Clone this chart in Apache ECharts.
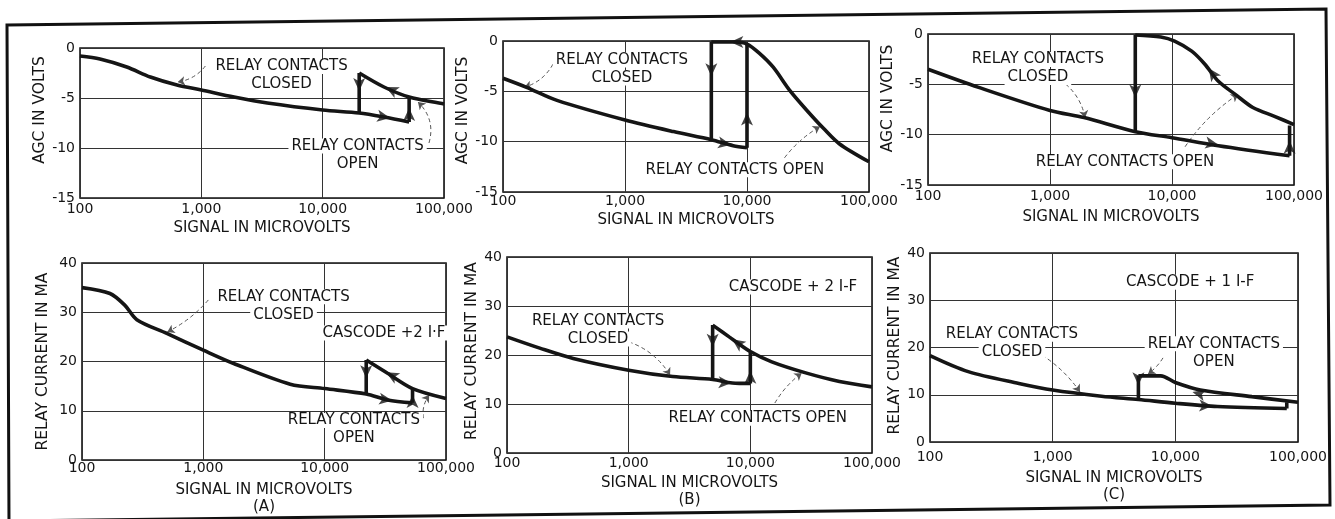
<!DOCTYPE html>
<html><head><meta charset="utf-8">
<script src="https://cdn.jsdelivr.net/npm/echarts@6/dist/echarts.min.js"></script>
<style>html,body{margin:0;padding:0;background:#fff}#c{width:1335px;height:519px}</style>
</head><body><div id="c"></div>
<script>
// ---------- tick labels ----------
const xTickValues = [100, 1000, 10000, 100000];
const xTickLabels = ['100', '1,000', '10,000', '100,000'];
const agcRange = [-15, 0];
const maRange = [0, 40];

// ---------- (A) AGC ----------
const aTopClosed = [[100,-0.8],[146,-1.1],[243,-1.9],[380,-2.9],[630,-3.7],[1000,-4.2],[1860,-4.9],[3500,-5.5],[10000,-6.2],[20000,-6.5],[32000,-6.9],[51600,-7.4]];
const aTopOpen = [[20000,-2.5],[32000,-3.9],[51600,-4.9],[100000,-5.6]];
const aTopJumpUp = [[51600,-7.4],[51600,-4.9]];
const aTopJumpDown = [[20000,-2.5],[20000,-6.5]];
const aTopArrows = [[20000,-4.3,270],[36000,-7.0,-10],[51600,-6.0,90],[33000,-3.9,154]];
const aTopNotes = [{text:['RELAY CONTACTS','CLOSED'], at:[4580,-2.75]},{text:['RELAY CONTACTS','OPEN'], at:[19400,-10.7]}];
const aTopLeaders = [[[1080,-1.8],[640,-3.4],0.2],[[75200,-9.5],[61000,-5.4],-0.3]];

// ---------- (B) AGC ----------
const bTopClosed = [[100,-3.7],[156,-4.6],[277,-5.9],[1000,-7.85],[2500,-9.0],[5100,-9.8],[7700,-10.4],[10000,-10.6]];
const bTopOpen = [[5100,-0.1],[8000,-0.1],[10000,-0.3],[12600,-1.2],[16400,-2.6],[22400,-4.9],[31000,-6.9],[42500,-8.7],[57000,-10.2],[100000,-12.0]];
const bTopJumpUp = [[10000,-10.6],[10000,-0.3]];
const bTopJumpDown = [[5100,-0.1],[5100,-9.8]];
const bTopArrows = [[5100,-3.5,270],[7400,-10.3,-10],[10000,-7.1,90],[7300,-0.1,180]];
const bTopNotes = [{text:['RELAY CONTACTS','CLOSED'], at:[944,-2.78]},{text:['RELAY CONTACTS OPEN'], at:[7960,-12.8]}];
const bTopLeaders = [[[257,-2.3],[150,-4.6],0.2],[[20300,-11.6],[39700,-8.5],0.1]];

// ---------- (C) AGC ----------
const cTopClosed = [[100,-3.5],[260,-5.3],[1000,-7.6],[1900,-8.3],[5000,-9.7],[10000,-10.3],[24000,-11.1],[92000,-12.1]];
const cTopOpen = [[5000,-0.1],[8100,-0.3],[10500,-0.7],[14500,-1.7],[18600,-3.0],[24000,-4.7],[33000,-6.0],[46000,-7.3],[70000,-8.2],[100000,-9.0]];
const cTopJumpUp = [[92000,-12.1],[92000,-9.1]];
const cTopJumpDown = [[5000,-0.1],[5000,-9.7]];
const cTopArrows = [[5000,-6.3,270],[24000,-11.0,-10],[92000,-10.6,90],[20000,-3.4,125]];
const cTopNotes = [{text:['RELAY CONTACTS','CLOSED'], at:[796,-3.42]},{text:['RELAY CONTACTS OPEN'], at:[4120,-12.7]}];
const cTopLeaders = [[[1210,-4.55],[1940,-8.3],0.2],[[12800,-11.2],[34800,-6.0],0.1]];

// ---------- (A) relay current ----------
const aBotClosed = [[100,35],[170,33.8],[226,31.4],[283,28.5],[500,25.7],[1000,22.3],[1780,19.6],[5200,15.4],[10000,14.5],[22000,13.4],[33000,12.2],[53000,11.6]];
const aBotOpen = [[22000,20.3],[33000,17.6],[53000,14.5],[100000,12.5]];
const aBotJumpUp = [[53000,11.6],[53000,14.5]];
const aBotJumpDown = [[22000,20.3],[22000,13.4]];
const aBotArrows = [[22000,16.6,270],[36000,12.1,-8],[53000,13.2,90],[32000,17.8,152]];
const aBotNotes = [{text:['RELAY CONTACTS','CLOSED'], at:[4580,31.3]},{text:['CASCODE +2 I·F'], at:[30800,25.8]},{text:['RELAY CONTACTS','OPEN'], at:[17400,6.2]}];
const aBotLeaders = [[[1100,32.5],[505,26.0],0.1],[[65000,8.5],[72700,13.2],0.2]];

// ---------- (B) relay current ----------
const bBotClosed = [[100,23.7],[186,21.4],[350,19.3],[1000,16.9],[2300,15.6],[4900,15.0],[7100,14.3],[10000,14.2]];
const bBotOpen = [[4900,26.1],[6700,23.7],[10000,20.7],[15000,18.6],[29000,16.3],[54000,14.6],[100000,13.5]];
const bBotJumpUp = [[10000,14.2],[10000,20.7]];
const bBotJumpDown = [[4900,26.1],[4900,15.0]];
const bBotArrows = [[4900,21.7,270],[7000,14.3,-3],[10000,16.8,90],[7100,23.2,145]];
const bBotNotes = [{text:['CASCODE + 2 I-F'], at:[22400,33.9]},{text:['RELAY CONTACTS','CLOSED'], at:[560,25.1]},{text:['RELAY CONTACTS OPEN'], at:[11500,7.1]}];
const bBotLeaders = [[[881,23.1],[2190,15.9],0.2],[[15900,10.2],[26400,16.3],0.1]];

// ---------- (C) relay current ----------
const cBotClosed = [[100,18.3],[205,14.9],[530,12.4],[1000,11.0],[2500,9.7],[5000,9.0],[10000,8.2],[22000,7.5],[81000,7.1]];
const cBotOpen = [[5000,14.0],[7600,14.0],[10000,12.6],[16000,11.0],[42000,9.6],[100000,8.4]];
const cBotJumpUp = [[81000,7.1],[81000,8.4]];
const cBotJumpDown = [[5000,14.0],[5000,9.0]];
const cBotArrows = [[5000,12.0,270],[20000,7.6,-3],[13800,10.6,165]];
const cBotNotes = [{text:['CASCODE + 1 I-F'], at:[13200,33.8]},{text:['RELAY CONTACTS','CLOSED'], at:[466,20.9]},{text:['RELAY CONTACTS','OPEN'], at:[20600,18.9]}];
const cBotLeaders = [[[818,18.4],[1670,10.6],0.1],[[7930,17.8],[5990,14.4],0.1]];

// ---------- layout (pixels) ----------
const FONT = 'DejaVu Sans';
const INK = '#151515';
const panels = [
  {grid:{left:80,top:48,width:364,height:150}, y:agcRange, yName:'AGC IN VOLTS', xName:'SIGNAL IN MICROVOLTS', xGap:22, yGap:32, yPad:26, xMargin:4,
   closed:aTopClosed, open:aTopOpen, up:aTopJumpUp, down:aTopJumpDown, arrows:aTopArrows, notes:aTopNotes, leaders:aTopLeaders},
  {grid:{left:503,top:41,width:366,height:151}, y:agcRange, yName:'AGC IN VOLTS', xName:'SIGNAL IN MICROVOLTS', xGap:20, yGap:27, yPad:12, xMargin:2,
   closed:bTopClosed, open:bTopOpen, up:bTopJumpUp, down:bTopJumpDown, arrows:bTopArrows, notes:bTopNotes, leaders:bTopLeaders},
  {grid:{left:928,top:34,width:366,height:151}, y:agcRange, yName:'AGC IN VOLTS', xName:'SIGNAL IN MICROVOLTS', xGap:24, yGap:27, yPad:22, xMargin:4,
   closed:cTopClosed, open:cTopOpen, up:cTopJumpUp, down:cTopJumpDown, arrows:cTopArrows, notes:cTopNotes, leaders:cTopLeaders},
  {grid:{left:82,top:263,width:364,height:197}, y:maRange, yName:'RELAY CURRENT IN MA', xName:'SIGNAL IN MICROVOLTS\n(A)', xGap:22, yGap:31, yPad:0, xMargin:1,
   closed:aBotClosed, open:aBotOpen, up:aBotJumpUp, down:aBotJumpDown, arrows:aBotArrows, notes:aBotNotes, leaders:aBotLeaders},
  {grid:{left:507,top:257,width:365,height:196}, y:maRange, yName:'RELAY CURRENT IN MA', xName:'SIGNAL IN MICROVOLTS\n(B)', xGap:22, yGap:26, yPad:8, xMargin:3,
   closed:bBotClosed, open:bBotOpen, up:bBotJumpUp, down:bBotJumpDown, arrows:bBotArrows, notes:bBotNotes, leaders:bBotLeaders},
  {grid:{left:930,top:253,width:368,height:189}, y:maRange, yName:'RELAY CURRENT IN MA', xName:'SIGNAL IN MICROVOLTS\n(C)', xGap:28, yGap:27, yPad:4, xMargin:8,
   closed:cBotClosed, open:cBotOpen, up:cBotJumpUp, down:cBotJumpDown, arrows:cBotArrows, notes:cBotNotes, leaders:cBotLeaders}
];

const grids = [], xAxes = [], yAxes = [], series = [];
panels.forEach((p, i) => {
  grids.push(Object.assign({show:true, borderColor:INK, borderWidth:1.6, backgroundColor:'#fff'}, p.grid));
  xAxes.push({
    type:'log', logBase:10, gridIndex:i, min:xTickValues[0], max:xTickValues[xTickValues.length-1],
    name:p.xName, nameLocation:'middle', nameGap:p.xGap,
    nameTextStyle:{fontFamily:FONT, fontSize:15, color:INK, lineHeight:17},
    axisLine:{show:false}, axisTick:{show:false}, minorTick:{show:false},
    axisLabel:{fontFamily:FONT, fontSize:14, color:INK, margin:p.xMargin,
      formatter:v => { const k = xTickValues.indexOf(Math.round(v)); return k >= 0 ? xTickLabels[k] : ''; }},
    splitLine:{show:true, lineStyle:{color:'#333', width:1}}
  });
  yAxes.push({
    type:'value', gridIndex:i, min:p.y[0], max:p.y[1], interval:p.y === agcRange ? 5 : 10,
    name:p.yName, nameLocation:'middle', nameGap:p.yGap,
    nameTextStyle:{fontFamily:FONT, fontSize:15.5, color:INK, padding:[0,0,0,p.yPad]},
    axisLine:{show:false}, axisTick:{show:false},
    axisLabel:{fontFamily:FONT, fontSize:14, color:INK, margin:5},
    splitLine:{show:true, lineStyle:{color:'#333', width:1}}
  });
  const base = {type:'line', xAxisIndex:i, yAxisIndex:i, showSymbol:false, symbol:'none', silent:true,
    lineStyle:{color:INK, width:3.6}, z:3};
  series.push(Object.assign({}, base, {data:p.closed, smooth:0.3,
    markPoint:{
      symbol:'circle', symbolSize:1, itemStyle:{color:'rgba(0,0,0,0)'}, silent:true,
      label:{show:true, position:'inside', align:'center', verticalAlign:'middle', lineHeight:18,
        formatter:pp => pp.data.lines.map(t => '{t|' + t + '}').join('\n'),
        rich:{t:{fontFamily:FONT, fontSize:15, color:INK, backgroundColor:'#fff', padding:[0,3], lineHeight:18}}},
      data:p.notes.map(n => ({coord:n.at, lines:n.text}))
    }}));
  series.push(Object.assign({}, base, {data:p.open, smooth:0.3}));
  series.push(Object.assign({}, base, {data:p.up}));
  series.push(Object.assign({}, base, {data:p.down}));
  series.push({type:'scatter', xAxisIndex:i, yAxisIndex:i, silent:true, z:4,
    symbol:'arrow', symbolSize:[9,13], symbolRotate:v => v[2] - 90,
    itemStyle:{color:INK}, data:p.arrows});
  series.push({type:'lines', coordinateSystem:'cartesian2d', xAxisIndex:i, yAxisIndex:i, silent:true, z:2,
    symbol:['none','arrow'], symbolSize:7,
    lineStyle:{color:'#555', width:1, type:[4,3], opacity:1},
    data:p.leaders.map(l => ({coords:[l[0], l[1]], lineStyle:{curveness:l[2]}}))});
});

const chart = echarts.init(document.getElementById('c'), null, {renderer:'canvas'});
chart.setOption({
  backgroundColor:'#fff', animation:false,
  grid:grids, xAxis:xAxes, yAxis:yAxes, series:series,
  graphic:[{type:'polygon', z:10, silent:true,
    shape:{points:[[7,25],[1326,9],[1330,505],[9,521]]},
    style:{fill:'none', stroke:'#111', lineWidth:3}}]
});
</script></body></html>
